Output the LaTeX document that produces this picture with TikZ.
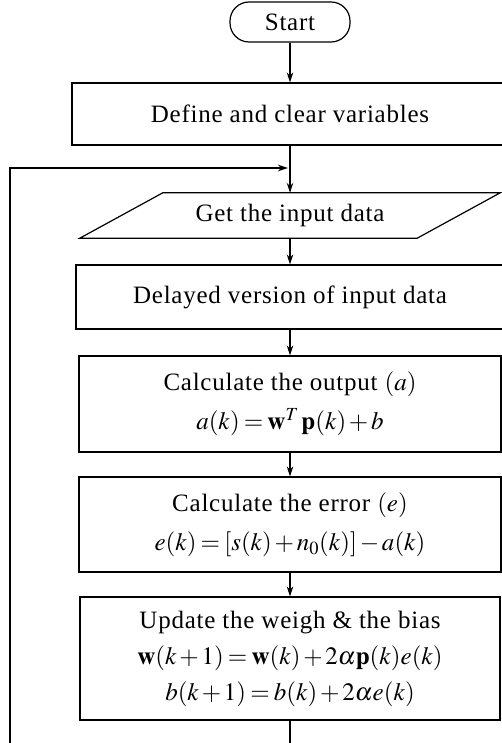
\documentclass[tikz,border=0pt]{standalone}
\usepackage{mathptmx}
\usepackage{fontspec}
\setmainfont{Liberation Serif}[LetterSpace=3]
\usetikzlibrary{arrows.meta}
\thickmuskip=3mu\relax
\medmuskip=2mu\relax
\begin{document}
\begin{tikzpicture}[x=1pt,y=-1pt,
  lw/.style={line width=1.2pt},
  txt/.style={font=\fontsize{25}{36}\selectfont},
  box/.style={draw, lw, inner sep=0pt, align=center, txt},
  arr/.style={lw, -{Stealth[length=10pt,width=6.5pt]}},
  ln/.style={lw}]
\useasboundingbox (0,0) rectangle (501,743);
\node[box, rounded corners=19pt, minimum width=120pt, minimum height=40pt] (start) at (290,22) {Start};
\node[box, minimum width=436pt, minimum height=62pt] (def) at (290,114) {Define and clear variables};
\node[inner sep=0pt, minimum width=337pt, minimum height=45pt, txt] (get) at (290,215.5) {Get the input data};
\draw[lw] ([xshift=41.5pt]get.north west) -- ([xshift=41.5pt]get.north east) -- ([xshift=-41.5pt]get.south east) -- ([xshift=-41.5pt]get.south west) -- cycle;
\node[box, minimum width=428pt, minimum height=64pt] (del) at (290,297) {Delayed version of input data};
\node[box, minimum width=422pt, minimum height=96pt] (out) at (290,404) {Calculate the output $(a)$\\[3pt] $a(k)=\mathbf{w}^{T}\,\mathbf{p}(k)+b$};
\node[box, minimum width=422pt, minimum height=95pt] (err) at (290,524.5) {Calculate the error $(e)$\\[3pt] $e(k)=[s(k)+n_{0}(k)]-a(k)$};
\node[box, minimum width=420pt, minimum height=123pt] (upd) at (290,658.5) {Update the weigh \& the bias\\ $\mathbf{w}(k+1)=\mathbf{w}(k)+2\alpha\mathbf{p}(k)e(k)$\\ $b(k+1)=b(k)+2\alpha e(k)$};
\coordinate (join) at (288,168);
\coordinate (bot) at (290,745);
\coordinate (loopend) at (10,745);
\draw[arr] (start) -- (def);
\draw[arr] (def) -- (get.north);
\draw[arr] (get.south) -- (del);
\draw[arr] (del) -- (out);
\draw[arr] (out) -- (err);
\draw[arr] (err) -- (upd);
\draw[ln] (upd) -- (bot);
\draw[arr] (loopend) |- (join);
\end{tikzpicture}
\end{document}
